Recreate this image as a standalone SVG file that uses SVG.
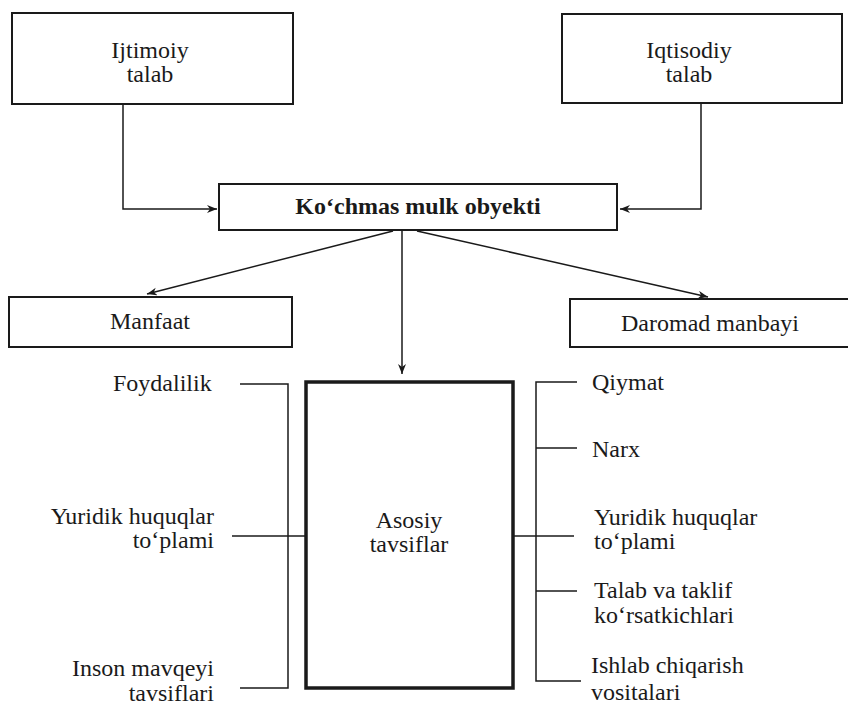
<svg xmlns="http://www.w3.org/2000/svg" width="848" height="707" viewBox="0 0 848 707">
<defs>
<style>
text{font-family:"Liberation Serif","Times New Roman",serif;font-size:24px;fill:#1a1a1a}
.b{font-weight:bold}
.box{fill:none;stroke:#1a1a1a;stroke-width:2}
.thick{fill:none;stroke:#1a1a1a;stroke-width:3.5}
.ln{fill:none;stroke:#1a1a1a;stroke-width:1.5}
.c{text-anchor:middle}
.e{text-anchor:end}
</style>
<marker id="ah" markerUnits="userSpaceOnUse" markerWidth="12" markerHeight="10" refX="10" refY="4" orient="auto">
<path d="M0,0 L10,4 L0,8 L3,4 Z" fill="#1a1a1a"/>
</marker>
</defs>
<rect width="848" height="707" fill="#ffffff"/>

<g id="connectors">
<polyline class="ln" points="123,104 123,209 217,209" marker-end="url(#ah)"/>
<polyline class="ln" points="701,103 701,209 620,209" marker-end="url(#ah)"/>
<line class="ln" x1="393" y1="231" x2="147" y2="294" marker-end="url(#ah)"/>
<line class="ln" x1="417" y1="231" x2="708" y2="297" marker-end="url(#ah)"/>
<line class="ln" x1="402" y1="231" x2="402" y2="374" marker-end="url(#ah)"/>
<!-- left bracket -->
<polyline class="ln" points="240,384 288,384 288,688 240,688"/>
<line class="ln" x1="232" y1="536" x2="306" y2="536"/>
<!-- right bracket -->
<polyline class="ln" points="577,382 536,382 536,681 581,681"/>
<line class="ln" x1="536" y1="448" x2="577" y2="448"/>
<line class="ln" x1="513" y1="536" x2="574" y2="536"/>
<line class="ln" x1="536" y1="591" x2="577" y2="591"/>
</g>

<g id="ijtimoiy">
<rect class="box" x="12" y="13" width="281" height="91"/>
<text class="c" x="150" y="58">Ijtimoiy</text>
<text class="c" x="150" y="82">talab</text>
</g>

<g id="iqtisodiy">
<rect class="box" x="562" y="14" width="280" height="89"/>
<text class="c" x="689" y="58">Iqtisodiy</text>
<text class="c" x="689" y="82">talab</text>
</g>

<g id="kochmas">
<rect class="box" x="219" y="184" width="398" height="46" stroke-width="2.5"/>
<text class="c b" x="418" y="214">Ko‘chmas mulk obyekti</text>
</g>

<g id="manfaat">
<rect class="box" x="9" y="297" width="283" height="50"/>
<text class="c" x="150" y="329">Manfaat</text>
</g>

<g id="daromad">
<rect class="box" x="570" y="299" width="284" height="48"/>
<text class="c" x="710" y="331">Daromad manbayi</text>
</g>

<g id="asosiy">
<rect class="thick" x="306" y="382" width="207" height="306"/>
<text class="c" x="409" y="528">Asosiy</text>
<text class="c" x="409" y="552">tavsiflar</text>
</g>

<g id="foydalilik">
<text x="113" y="391">Foydalilik</text>
</g>
<g id="yuridik-left">
<text class="e" x="214" y="524">Yuridik huquqlar</text>
<text class="e" x="214" y="548">to‘plami</text>
</g>
<g id="inson">
<text class="e" x="214" y="676">Inson mavqeyi</text>
<text class="e" x="214" y="701">tavsiflari</text>
</g>

<g id="qiymat">
<text x="592" y="390">Qiymat</text>
</g>
<g id="narx">
<text x="592" y="457">Narx</text>
</g>
<g id="yuridik-right">
<text x="594" y="525">Yuridik huquqlar</text>
<text x="594" y="549">to‘plami</text>
</g>
<g id="talab-taklif">
<text x="594" y="598">Talab va taklif</text>
<text x="594" y="623">ko‘rsatkichlari</text>
</g>
<g id="ishlab">
<text x="591" y="673">Ishlab chiqarish</text>
<text x="591" y="700">vositalari</text>
</g>
</svg>
